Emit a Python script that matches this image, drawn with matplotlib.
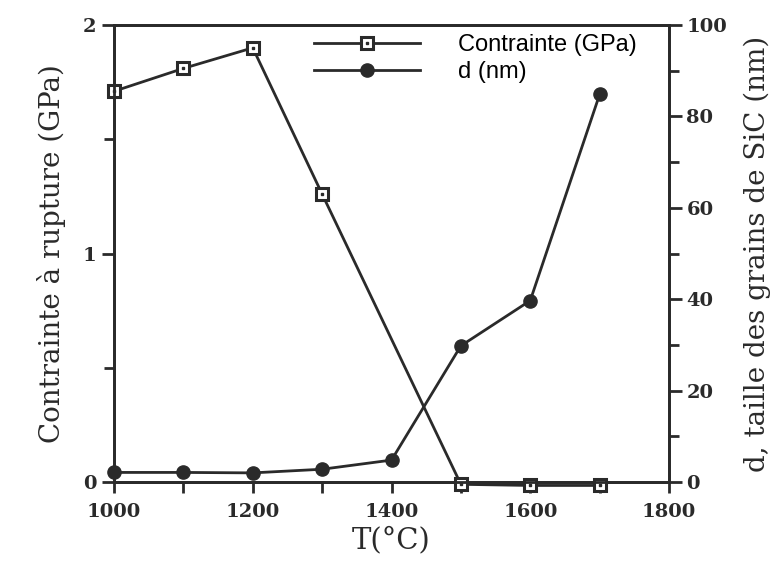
import numpy as np
import matplotlib.pyplot as plt
from matplotlib.legend_handler import HandlerTuple

# data
temp = [1000, 1100, 1200, 1300, 1500, 1600, 1700]
contrainte = [1.71, 1.81, 1.90, 1.26, -0.01, -0.015, -0.015]
temp_d = [1000, 1100, 1200, 1300, 1400, 1500, 1600, 1700]
d_nm = [2.1, 2.1, 2.0, 2.8, 4.8, 29.8, 39.7, 84.8]

ink = '#2a2a2a'
serif = ['DejaVu Serif']

fig = plt.figure(figsize=(7.82, 5.77), dpi=100)
ax = fig.add_axes([0.1458, 0.1646, 0.7097, 0.7921])
ax2 = ax.twinx()

l1, = ax.plot(temp, contrainte, '-', color=ink, lw=2, marker='s', ms=8.5,
              mfc='white', mec=ink, mew=2.2, clip_on=False, zorder=3)
dots, = ax.plot(temp, contrainte, ls='none', marker='s', ms=2, color=ink,
                clip_on=False, zorder=4)
l2, = ax2.plot(temp_d, d_nm, '-', color=ink, lw=2, marker='o', ms=9.5,
               mfc=ink, mec=ink, clip_on=False, zorder=3)

ax.set_xlim(1000, 1800)
ax.set_ylim(0, 2)
ax2.set_ylim(0, 100)
ax.set_xticks([1000, 1200, 1400, 1600, 1800])
ax.set_xticks(np.arange(1000, 1801, 100), minor=True)
ax.set_yticks([0, 1, 2])
ax.set_yticks([0.5, 1.5], minor=True)
ax2.set_yticks([0, 20, 40, 60, 80, 100])
ax2.set_yticks([10, 30, 50, 70, 90], minor=True)

for a in (ax, ax2):
    for s in a.spines.values():
        s.set_linewidth(2)
        s.set_color(ink)
    a.tick_params(which='both', direction='out', width=2, color=ink)
    a.tick_params(which='major', length=9)
    a.tick_params(which='minor', length=7)
ax.tick_params(axis='x', which='both', length=8, pad=7)

for lab in ax.get_xticklabels() + ax.get_yticklabels() + ax2.get_yticklabels():
    lab.set_family(serif)
    lab.set_fontweight('bold')
    lab.set_fontsize(14)
    lab.set_color(ink)

ax.set_xlabel('T(°C)', family=serif, fontsize=21, color=ink, labelpad=4)
ax.set_ylabel('Contrainte à rupture (GPa)', family=serif, fontsize=20, color=ink, labelpad=12)
ax2.set_ylabel('d, taille des grains de SiC (nm)', family=serif, fontsize=20, color=ink,
               rotation=90, labelpad=12)

ax2.legend([(l1, dots), l2], ['Contrainte (GPa)', 'd (nm)'],
           handler_map={tuple: HandlerTuple(ndivide=1, pad=0)},
           loc='upper left', bbox_to_anchor=(0.322, 1.026), frameon=False,
           handlelength=4.5, handletextpad=1.6, labelspacing=0.2, numpoints=1,
           prop={'family': 'Liberation Sans', 'size': 17})

fig.savefig('out.png', dpi=100)
